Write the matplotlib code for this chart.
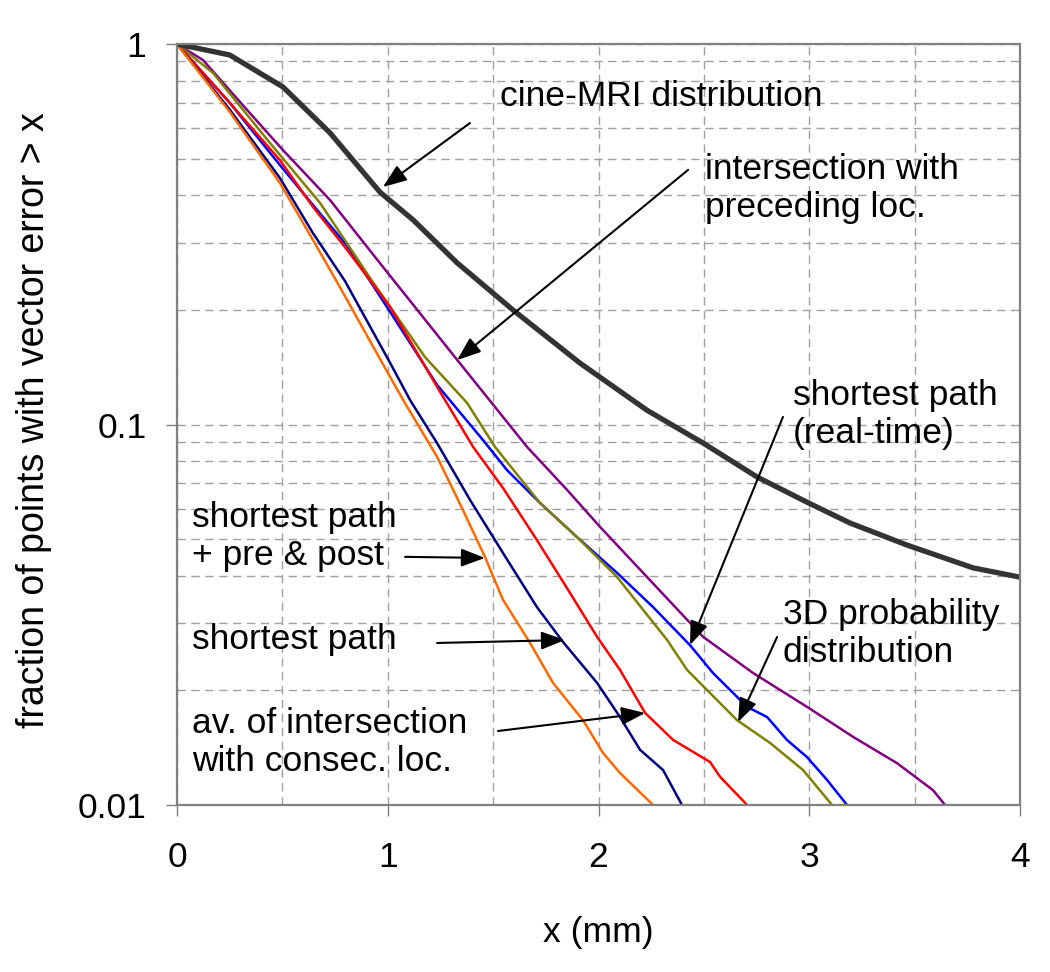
import matplotlib
matplotlib.use('Agg')
import matplotlib.pyplot as plt
from matplotlib.ticker import FixedLocator, NullFormatter
import numpy as np

plt.rcParams['font.family'] = ['Liberation Sans', 'DejaVu Sans']

# curves: x in mm, y = fraction of points with error > x
cine_x = [0, 0.25, 0.503, 0.726, 0.963, 1.12, 1.329, 1.594, 1.912, 2.23, 2.496,
          2.752, 2.989, 3.193, 3.464, 3.777, 4.0]
cine_y = [1.0, 0.936, 0.771, 0.584, 0.408, 0.345, 0.266, 0.200, 0.145, 0.109,
          0.0894, 0.0728, 0.0625, 0.0551, 0.0482, 0.0420, 0.0397]

# the others are stored as log10(y)
prec_x = [0, 0.123, 0.332, 0.503, 0.726, 0.963, 1.329, 1.661, 1.851, 2.007, 2.244,
          2.496, 2.733, 2.989, 3.208, 3.416, 3.587, 3.644]
prec_log = [0, -0.042, -0.173, -0.279, -0.41, -0.576, -0.83, -1.059, -1.172, -1.269,
            -1.409, -1.558, -1.653, -1.742, -1.821, -1.89, -1.961, -2.0]

rt_x = [0, 0.251, 0.488, 0.645, 0.807, 1.011, 1.234, 1.452, 1.566, 1.722, 1.898,
        2.088, 2.259, 2.434, 2.543, 2.705, 2.8, 2.894, 2.989, 3.084, 3.179]
rt_log = [0, -0.155, -0.318, -0.423, -0.53, -0.704, -0.896, -1.041, -1.12, -1.206,
          -1.296, -1.39, -1.48, -1.58, -1.653, -1.742, -1.769, -1.829, -1.874,
          -1.934, -2.0]

prob_x = [0, 0.171, 0.441, 0.679, 0.916, 1.177, 1.376, 1.509, 1.722, 1.898, 2.088,
          2.325, 2.42, 2.657, 2.814, 2.97, 3.108]
prob_log = [0, -0.076, -0.26, -0.418, -0.615, -0.823, -0.943, -1.059, -1.206, -1.296,
            -1.401, -1.566, -1.645, -1.777, -1.837, -1.908, -2.0]

avg_x = [0, 0.251, 0.488, 0.645, 0.807, 1.011, 1.234, 1.405, 1.547, 1.708, 1.865,
         1.993, 2.102, 2.221, 2.354, 2.529, 2.577, 2.705]
avg_log = [0, -0.155, -0.305, -0.428, -0.541, -0.691, -0.901, -1.059, -1.167, -1.304,
           -1.443, -1.558, -1.645, -1.758, -1.829, -1.887, -1.926, -2.0]

sp_x = [0, 0.251, 0.488, 0.645, 0.797, 1.011, 1.106, 1.234, 1.39, 1.547, 1.708,
        1.832, 1.993, 2.102, 2.197, 2.306, 2.396]
sp_log = [0, -0.173, -0.352, -0.497, -0.623, -0.838, -0.936, -1.049, -1.198, -1.338,
          -1.48, -1.572, -1.679, -1.769, -1.855, -1.908, -2.0]

pp_x = [0, 0.251, 0.488, 0.645, 0.773, 1.011, 1.082, 1.234, 1.357, 1.461, 1.547,
        1.675, 1.784, 1.926, 2.021, 2.102, 2.259]
pp_log = [0, -0.179, -0.365, -0.515, -0.639, -0.875, -0.944, -1.085, -1.225, -1.348,
          -1.461, -1.574, -1.679, -1.777, -1.863, -1.916, -2.0]

fig = plt.figure(figsize=(10.5, 9.72), dpi=100)
ax = fig.add_axes([0.1686, 0.1718, 0.8029, 0.7829])

ax.plot(prec_x, 10 ** np.array(prec_log), color='#800080', lw=1.8)
ax.plot(rt_x, 10 ** np.array(rt_log), color='#0000ff', lw=1.8)
ax.plot(prob_x, 10 ** np.array(prob_log), color='#808000', lw=1.8)
ax.plot(avg_x, 10 ** np.array(avg_log), color='#ff0000', lw=1.8)
ax.plot(sp_x, 10 ** np.array(sp_log), color='#000080', lw=1.8)
ax.plot(pp_x, 10 ** np.array(pp_log), color='#ff6a00', lw=1.8)
ax.plot(cine_x, cine_y, color='#333333', lw=3.8)

ax.set_yscale('log')
ax.set_xlim(0, 4)
ax.set_ylim(0.01, 1)

ax.set_xticks([0, 1, 2, 3, 4])
ax.set_xticklabels(['0', '1', '2', '3', '4'])
ax.xaxis.set_minor_locator(FixedLocator([0.5, 1.5, 2.5, 3.5]))
ax.set_yticks([0.01, 0.1, 1])
ax.set_yticklabels(['0.01', '0.1', '1'])
minors = [m * d for d in (0.01, 0.1) for m in range(2, 10)]
ax.yaxis.set_minor_locator(FixedLocator(minors))
ax.yaxis.set_minor_formatter(NullFormatter())

ax.grid(True, which='both', color='#a0a0a0', lw=1.0, ls=(0, (6, 4)))
ax.set_axisbelow(True)

for s in ax.spines.values():
    s.set_color('#808080')
    s.set_linewidth(1.6)
ax.tick_params(which='major', direction='out', length=8, width=1.0, color='#808080',
               labelsize=25.5)
ax.tick_params(axis='x', which='major', pad=18)
ax.tick_params(axis='y', which='major', pad=14)
ax.tick_params(which='minor', length=0)

ax.set_xlabel('x (mm)', fontsize=25.5)
ax.xaxis.set_label_coords(0.5, -0.146)
ax.set_ylabel('fraction of points with vector error > x', fontsize=27)
ax.yaxis.set_label_coords(-0.148, 0.506)

arrow = dict(arrowstyle='-|>,head_length=1.45,head_width=0.55', color='black',
             lw=1.5, shrinkA=0, shrinkB=0)
fs = 25.5

ax.annotate('', xy=(0.977, 0.421), xytext=(1.39, 0.62), arrowprops=arrow)
ax.text(1.533, 0.726, 'cine-MRI distribution', fontsize=fs, va='center')

ax.annotate('', xy=(1.329, 0.1477), xytext=(2.425, 0.467), arrowprops=arrow)
ax.text(2.505, 0.418, 'intersection with\npreceding loc.', fontsize=fs, va='center')

ax.annotate('', xy=(2.434, 0.02633), xytext=(2.875, 0.1047), arrowprops=arrow)
ax.text(2.923, 0.106, 'shortest path\n(real-time)', fontsize=fs, va='center')

ax.annotate('', xy=(2.662, 0.01652), xytext=(2.847, 0.02763), arrowprops=arrow)
ax.text(2.875, 0.0283, '3D probability\ndistribution', fontsize=fs, va='center')

ax.annotate('', xy=(1.461, 0.0446), xytext=(1.082, 0.0449), arrowprops=arrow)
ax.text(0.0712, 0.0509, 'shortest path\n+ pre & post', fontsize=fs, va='center')

ax.annotate('', xy=(1.841, 0.02714), xytext=(1.234, 0.02666), arrowprops=arrow)
ax.text(0.0712, 0.0272, 'shortest path', fontsize=fs, va='center')

ax.annotate('', xy=(2.221, 0.01745), xytext=(1.523, 0.01565), arrowprops=arrow)
ax.text(0.0712, 0.0146, 'av. of intersection\nwith consec. loc.', fontsize=fs,
        va='center')

fig.savefig('out.png', dpi=100)
